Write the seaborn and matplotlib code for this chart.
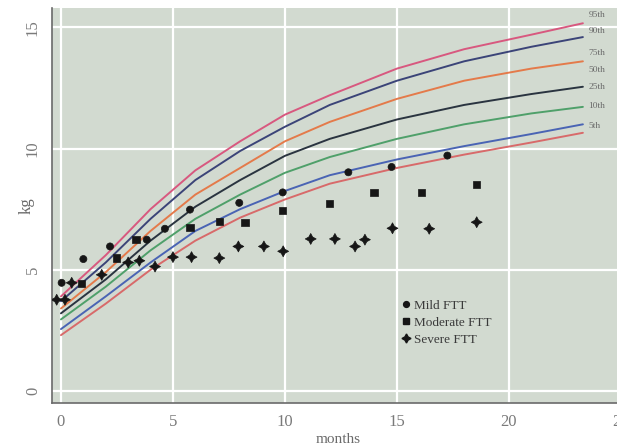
import numpy as np
import pandas as pd
import matplotlib
matplotlib.use("Agg")
import matplotlib.pyplot as plt
import seaborn as sns

# ---- data -------------------------------------------------------------
curve_months = [0, 2, 4, 6, 8, 10, 12, 15, 18, 21, 23.3]
p95 = [3.9, 5.6, 7.5, 9.1, 10.3, 11.4, 12.2, 13.3, 14.1, 14.7, 15.17]
p90 = [3.7, 5.3, 7.1, 8.7, 9.9, 10.9, 11.8, 12.8, 13.6, 14.2, 14.6]
p75 = [3.4, 4.9, 6.6, 8.1, 9.2, 10.3, 11.1, 12.05, 12.8, 13.3, 13.6]
p50 = [3.2, 4.6, 6.2, 7.6, 8.7, 9.7, 10.4, 11.2, 11.8, 12.25, 12.55]
p25 = [2.95, 4.3, 5.8, 7.1, 8.1, 9.0, 9.65, 10.4, 11.0, 11.45, 11.72]
p10 = [2.55, 3.9, 5.3, 6.6, 7.5, 8.25, 8.9, 9.55, 10.1, 10.6, 11.0]
p5 = [2.3, 3.6, 5.0, 6.2, 7.15, 7.9, 8.55, 9.2, 9.75, 10.25, 10.65]

curve_labels = ["95th", "90th", "75th", "50th", "25th", "10th", "5th"]
label_y = [15.5, 14.85, 13.95, 13.26, 12.55, 11.74, 10.95]

mild_m = [0.03, 1.0, 2.19, 3.83, 4.64, 5.76, 7.96, 9.9, 12.83, 14.76, 17.25]
mild_kg = [4.46, 5.44, 5.96, 6.24, 6.69, 7.48, 7.76, 8.19, 9.02, 9.24, 9.71]

mod_m = [0.92, 2.49, 3.35, 5.76, 7.07, 8.21, 9.9, 12.0, 13.97, 16.1, 18.56]
mod_kg = [4.42, 5.48, 6.24, 6.74, 7.0, 6.95, 7.45, 7.73, 8.19, 8.19, 8.51]

sev_m = [-0.19, 0.18, 0.48, 1.82, 3.0, 3.5, 4.2, 5.0, 5.83, 7.07, 7.92, 9.06,
         9.92, 11.15, 12.23, 13.13, 13.57, 14.8, 16.44, 18.56]
sev_kg = [3.76, 3.76, 4.46, 4.79, 5.3, 5.37, 5.13, 5.52, 5.52, 5.48, 5.96, 5.96,
          5.76, 6.27, 6.27, 5.96, 6.24, 6.71, 6.69, 6.96]

groups = ["Mild FTT", "Moderate FTT", "Severe FTT"]

x_ticks = [0, 5, 10, 15, 20, 25]
y_ticks = [0, 5, 10, 15]

# ---- frames -----------------------------------------------------------
curves = pd.DataFrame({
    "month": curve_months * 7,
    "kg": p95 + p90 + p75 + p50 + p25 + p10 + p5,
    "pct": sum([[l] * len(curve_months) for l in curve_labels], []),
})
pts = pd.DataFrame({
    "month": mild_m + mod_m + sev_m,
    "kg": mild_kg + mod_kg + sev_kg,
    "group": [groups[0]] * len(mild_m) + [groups[1]] * len(mod_m) + [groups[2]] * len(sev_m),
})

line_colors = {"95th": "#d8587f", "90th": "#3b4478", "75th": "#e47a4a",
               "50th": "#2a3440", "25th": "#4fa06a", "10th": "#4a64b4",
               "5th": "#d86a6a"}

sns.set_style("white")
plt.rcParams["font.family"] = ["Liberation Serif", "DejaVu Serif"]

fig = plt.figure(figsize=(6.17, 4.45), dpi=100)
W, H = 617, 445
ax = fig.add_axes([52 / W, (H - 403) / H, (625 - 52) / W, (403 - 8) / H])
ax.set_facecolor("#d2dad0")

sns.lineplot(data=curves, x="month", y="kg", hue="pct", palette=line_colors,
             hue_order=curve_labels, linewidth=1.4, legend=False, ax=ax, zorder=3)

sns.scatterplot(data=pts, x="month", y="kg", style="group", style_order=groups,
                markers={"Mild FTT": "o", "Moderate FTT": "s", "Severe FTT": (4, 1, 0)},
                color="#161616", edgecolor="#161616", linewidth=0.5,
                size="group", sizes={"Mild FTT": 26, "Moderate FTT": 28, "Severe FTT": 62},
                legend=False, ax=ax, zorder=4)

for lab, yy in zip(curve_labels, label_y):
    ax.text(23.55, yy, lab, fontsize=6.8, color="#6a6a6a", va="center", ha="left", zorder=5)

# legend
leg_handles = [
    plt.Line2D([], [], marker="o", ls="", color="#161616", markersize=4.2),
    plt.Line2D([], [], marker="s", ls="", color="#161616", markersize=4.2),
    plt.Line2D([], [], marker=(4, 1, 0), ls="", color="#161616", markersize=6.5),
]
ax.legend(leg_handles, groups, loc="upper left", bbox_to_anchor=(0.6, 0.275),
          frameon=False, fontsize=9.5, handletextpad=0.2, labelspacing=0.35,
          handlelength=0.8, borderaxespad=0, labelcolor="#3a3a3a")

ax.set_xlim(-0.4, 25.18)
ax.set_ylim(-0.5, 15.8)
ax.set_xticks(x_ticks)
ax.set_yticks(y_ticks)
ax.set_xticklabels([str(t) for t in x_ticks])
ax.set_yticklabels([str(t) for t in y_ticks], rotation=90, va="center")
ax.grid(True, color="white", linewidth=1.6, zorder=0)
ax.set_axisbelow(True)
for s in ["top", "right"]:
    ax.spines[s].set_visible(False)
for s in ["left", "bottom"]:
    ax.spines[s].set_color("#6a6a6a")
    ax.spines[s].set_linewidth(1.2)
ax.tick_params(axis="both", direction="out", length=5, width=1, color="#6a6a6a",
               labelsize=12, labelcolor="#7a7a7a", pad=3)
ax.set_xlabel("months", fontsize=11, color="#6a6a6a", labelpad=2)
ax.set_ylabel("kg", fontsize=12, color="#6a6a6a")
ax.yaxis.set_label_coords(-0.03, 0.5)

fig.savefig("out.png", dpi=100)
